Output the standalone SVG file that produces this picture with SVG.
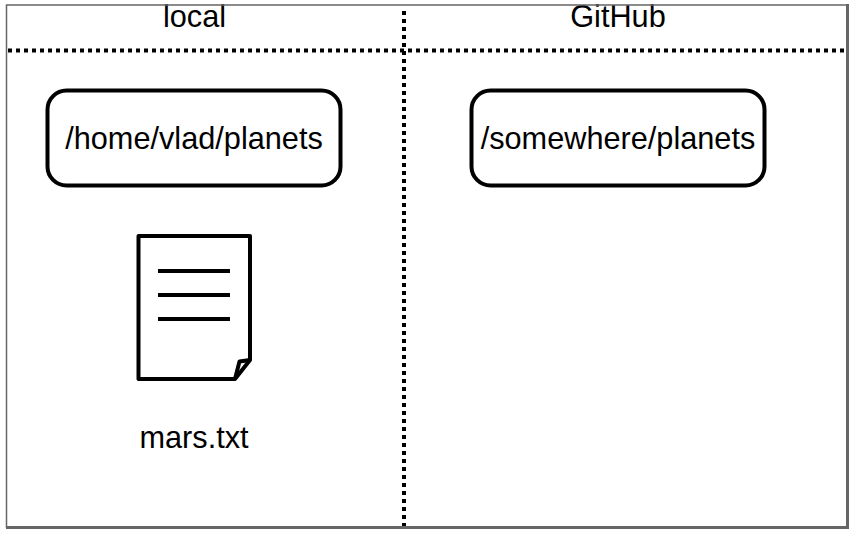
<svg xmlns="http://www.w3.org/2000/svg" width="852" height="533" viewBox="0 0 852 533">
<style>
text{font-family:"Liberation Sans",Arial,sans-serif;font-size:30.700px;fill:#000;text-anchor:middle}
.box{fill:#fff;stroke:#000;stroke-width:4}
.dots{fill:none;stroke:#000;stroke-width:4;stroke-dasharray:4 4}
.ln{fill:none;stroke:#000;stroke-width:4;stroke-linejoin:round}
</style>
<rect width="852" height="533" fill="#fff"/>
<g id="local"><text x="194.500" y="27">local</text></g>
<g id="github"><text x="618" y="27">GitHub</text></g>
<g id="frame">
<path d="M6.500 528V5H847" fill="none" stroke="#666" stroke-width="1.500"/>
<path d="M847.500 4V529M6 527.500H849" fill="none" stroke="#666" stroke-width="3"/>
</g>
<g id="connectors">
<path class="dots" d="M404 11V526"/>
<path class="dots" d="M8 50.500H846"/>
</g>
<g id="home-planets">
<rect class="box" x="47.500" y="90.500" width="293" height="95" rx="19"/>
<text x="194" y="149">/home/vlad/planets</text>
</g>
<g id="somewhere-planets">
<rect class="box" x="471.500" y="90.500" width="293" height="95" rx="19"/>
<text x="618" y="149">/somewhere/planets</text>
</g>
<g id="mars-file">
<path class="ln" d="M138.500 236H250V360L235 379H138.500Z" fill="#fff"/>
<path class="ln" d="M235 379L239.500 361.500L250 360"/>
<path class="ln" d="M158 271H230M158 295H230M158 319H230"/>
<text x="194" y="448">mars.txt</text>
</g>
</svg>
